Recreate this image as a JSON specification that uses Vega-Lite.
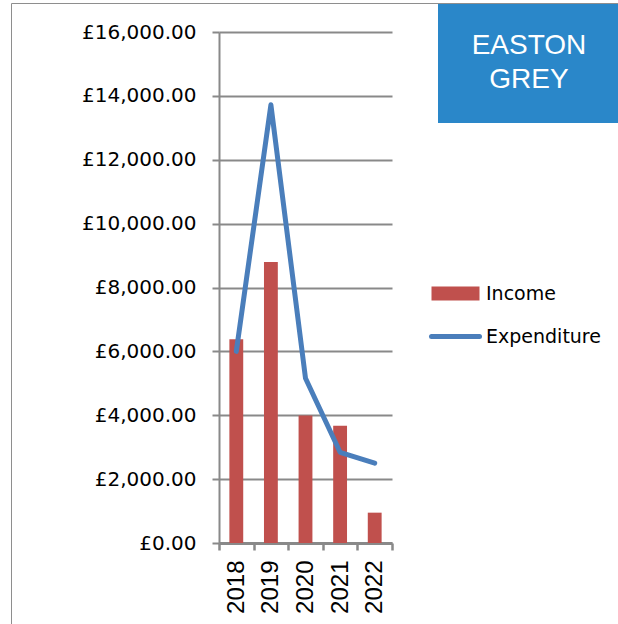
{
  "$schema": "https://vega.github.io/schema/vega-lite/v6.json",
  "autosize": {"type": "none"},
  "padding": {"left": 219, "top": 32, "right": 226, "bottom": 81},
  "width": 173,
  "height": 511,
  "background": "white",
  "config": {"view": {"stroke": null}},
  "data": {"values": [
    {"year": "2018", "series": "Income", "value": 6380, "parish": "EASTON GREY"},
    {"year": "2019", "series": "Income", "value": 8800, "parish": "EASTON GREY"},
    {"year": "2020", "series": "Income", "value": 3990, "parish": "EASTON GREY"},
    {"year": "2021", "series": "Income", "value": 3670, "parish": "EASTON GREY"},
    {"year": "2022", "series": "Income", "value": 950, "parish": "EASTON GREY"},
    {"year": "2018", "series": "Expenditure", "value": 6000, "parish": "EASTON GREY"},
    {"year": "2019", "series": "Expenditure", "value": 13720, "parish": "EASTON GREY"},
    {"year": "2020", "series": "Expenditure", "value": 5160, "parish": "EASTON GREY"},
    {"year": "2021", "series": "Expenditure", "value": 2840, "parish": "EASTON GREY"},
    {"year": "2022", "series": "Expenditure", "value": 2500, "parish": "EASTON GREY"}
  ]},
  "encoding": {
    "x": {
      "field": "year", "type": "nominal",
      "scale": {"paddingInner": 0, "paddingOuter": 0},
      "axis": {
        "title": null, "labelAngle": -90, "labelFont": "Liberation Sans", "labelFontSize": 24,
        "labelColor": "black", "labelPadding": 10, "tickBand": "extent", "tickSize": 7,
        "tickColor": "#898989", "tickWidth": 2.5, "domainColor": "#898989", "domainWidth": 3,
        "grid": false, "labelBaseline": "middle"
      }
    },
    "y": {
      "field": "value", "type": "quantitative",
      "scale": {"domain": [0, 16000], "nice": false},
      "axis": {
        "title": null, "values": [0, 2000, 4000, 6000, 8000, 10000, 12000, 14000, 16000],
        "labelExpr": "'£' + format(datum.value, ',.2f')",
        "labelFont": "DejaVu Sans", "labelFontSize": 20, "labelColor": "black", "labelPadding": 16,
        "tickSize": 7, "tickColor": "#898989", "tickWidth": 2, "domainColor": "#898989", "domainWidth": 2,
        "gridColor": "#898989", "gridWidth": 1.8
      }
    },
    "color": {
      "field": "series", "type": "nominal",
      "scale": {"domain": ["Income", "Expenditure"], "range": ["#C0504D", "#4A7EBB"]},
      "legend": {
        "title": null, "orient": "none", "legendX": 227, "legendY": 252, "padding": 0,
        "symbolSize": 2304, "rowPadding": 22, "labelOffset": 21,
        "labelFont": "DejaVu Sans", "labelFontSize": 19, "labelColor": "black",
        "encode": {"symbols": {"update": {
          "shape": {"signal": "datum.value === 'Income' ? 'M-1,-0.29H1V0.29H-1Z' : 'M-1,0H1'"},
          "fill": {"signal": "datum.value === 'Income' ? '#C0504D' : 'transparent'"},
          "stroke": {"value": "#4A7EBB"},
          "strokeWidth": {"signal": "datum.value === 'Income' ? 0 : 5"},
          "strokeCap": {"value": "round"},
          "opacity": {"value": 1}
        }}}
      }
    }
  },
  "layer": [
    {
      "transform": [{"filter": "datum.series === 'Income'"}],
      "mark": {"type": "bar", "width": {"band": 0.4}},
      "encoding": {
        "opacity": {
          "field": "parish", "type": "ordinal",
          "scale": {"type": "ordinal", "range": [1]},
          "legend": {
            "title": ["EASTON", "GREY"], "orient": "none", "legendX": 219, "legendY": -28,
            "fillColor": "#2A87C9", "padding": 28, "titleColor": "white",
            "titleFont": "Liberation Sans", "titleFontSize": 28, "titleFontWeight": "normal",
            "titleLineHeight": 34, "titleAlign": "center", "titleAnchor": "middle", "titlePadding": 0,
            "symbolSize": 0, "symbolOpacity": 0, "symbolStrokeWidth": 0, "labelOffset": 124,
            "labelExpr": "''", "labelFontSize": 1
          }
        }
      }
    },
    {
      "transform": [{"filter": "datum.series === 'Expenditure'"}],
      "mark": {"type": "line", "strokeWidth": 5, "strokeCap": "round", "strokeJoin": "round"},
      "encoding": {
        "strokeWidth": {
          "field": "parish", "type": "ordinal",
          "scale": {"type": "ordinal", "domain": ["EASTON GREY"], "range": [5]},
          "legend": {
            "title": null, "orient": "none", "legendX": -208, "legendY": -29,
            "padding": 0, "strokeColor": "#8E8E8E", "symbolSize": 1960000, "symbolOpacity": 0,
            "labelExpr": "''", "labelFontSize": 1, "labelOffset": 0
          }
        }
      }
    }
  ]
}
